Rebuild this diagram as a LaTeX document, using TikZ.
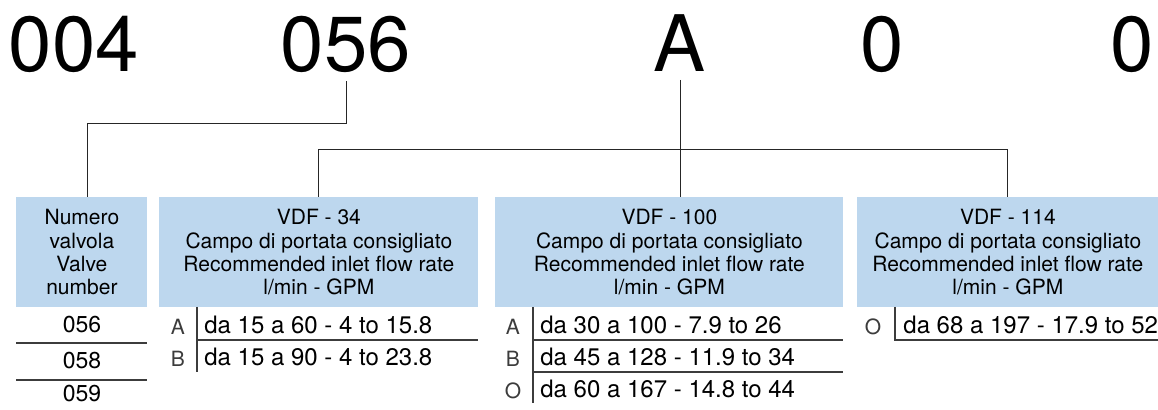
\documentclass[tikz,border=0pt]{standalone}
\usepackage{fontspec}
\setmainfont{TeX Gyre Heros}
\usetikzlibrary{positioning}
\definecolor{headblue}{HTML}{BDD7EE}
\definecolor{rulegray}{HTML}{3C3C3C}

\begin{document}
\begin{tikzpicture}[
    x=0.5pt, y=-0.5pt,
    code/.style={anchor=base, inner sep=0pt, outer ysep=4pt, font=\fontsize{39}{39}\selectfont},
    head/.style={rectangle, fill=headblue, anchor=north west, align=center, minimum height=55pt, inner sep=0pt, font=\fontsize{10.5}{11.7}\selectfont},
    flow/.style={anchor=base west, inner sep=0pt, font=\fontsize{12}{12}\selectfont},
    valve/.style={anchor=base, inner sep=0pt, font=\fontsize{11.5}{12}\selectfont},
    tag/.style={anchor=base, inner sep=0pt, text=rulegray, font=\fontsize{10.5}{10.5}\selectfont},
    link/.style={draw=black!85, line width=0.5pt},
    rule/.style={draw=rulegray, line width=0.7pt}
]
\useasboundingbox (0,0) rectangle (1158,410);

% code digits
\node[code] (t004) at (74,72) {004};
\node[code] (t056) at (346,72) {056};
\node[code] (tA) at (680,72) {A};
\node[code] (t0a) at (882,72) {0};
\node[code] (t0b) at (1132,72) {0};

% header boxes
\node[head, minimum width=65.5pt] (num) at (16,197) {Numero\\valvola\\Valve\\number};
\node[head, minimum width=159.5pt] (vdf34) at (159,197) {VDF - 34\\Campo di portata consigliato\\Recommended inlet flow rate\\l/min - GPM};
\node[head, minimum width=174pt] (vdf100) at (495,197) {VDF - 100\\Campo di portata consigliato\\Recommended inlet flow rate\\l/min - GPM};
\node[head, minimum width=150.5pt] (vdf114) at (857,197) {VDF - 114\\Campo di portata consigliato\\Recommended inlet flow rate\\l/min - GPM};

% connectors
\coordinate (k56) at (87,124);
\coordinate (kA) at (0,150);
\draw[link] (t056.south) |- (k56) -- (num.north -| k56);
\draw[link] (tA.south) -- (vdf100.north -| tA.south);
\draw[link] (vdf34.north) -- (vdf34.north |- kA) -| (vdf114.north);

% valve numbers
\node[valve] (v056) at (82,333) {056};
\node[valve] (v058) at (82,369) {058};
\node[valve] (v059) at (82,402) {059};
\draw[rule] (16,343) -- (147,343);
\draw[rule] (16,380) -- (147,380);

% VDF - 34
\node[tag] (a34) at (178,335) {A};
\node[tag] (b34) at (178,367) {B};
\node[flow] (fa34) at (204,334) {da 15 a 60 - 4 to 15.8};
\node[flow] (fb34) at (204,366) {da 15 a 90 - 4 to 23.8};
\draw[rule] (197,307) -- (197,372);
\draw[rule] (197,340) -- (478,340);

% VDF - 100
\node[tag] (a100) at (513,335) {A};
\node[tag] (b100) at (513,367) {B};
\node[tag] (o100) at (513,399) {O};
\node[flow] (fa100) at (540,334) {da 30 a 100 - 7.9 to 26};
\node[flow] (fb100) at (540,366) {da 45 a 128 - 11.9 to 34};
\node[flow] (fo100) at (540,398) {da 60 a 167 - 14.8 to 44};
\draw[rule] (533,307) -- (533,403);
\draw[rule] (533,340) -- (843,340);
\draw[rule] (533,372) -- (843,372);

% VDF - 114
\node[tag] (o114) at (873,335) {O};
\node[flow] (fo114) at (903,334) {da 68 a 197 - 17.9 to 52};
\draw[rule] (895,307) -- (895,340) -- (1158,340);
\end{tikzpicture}
\end{document}
